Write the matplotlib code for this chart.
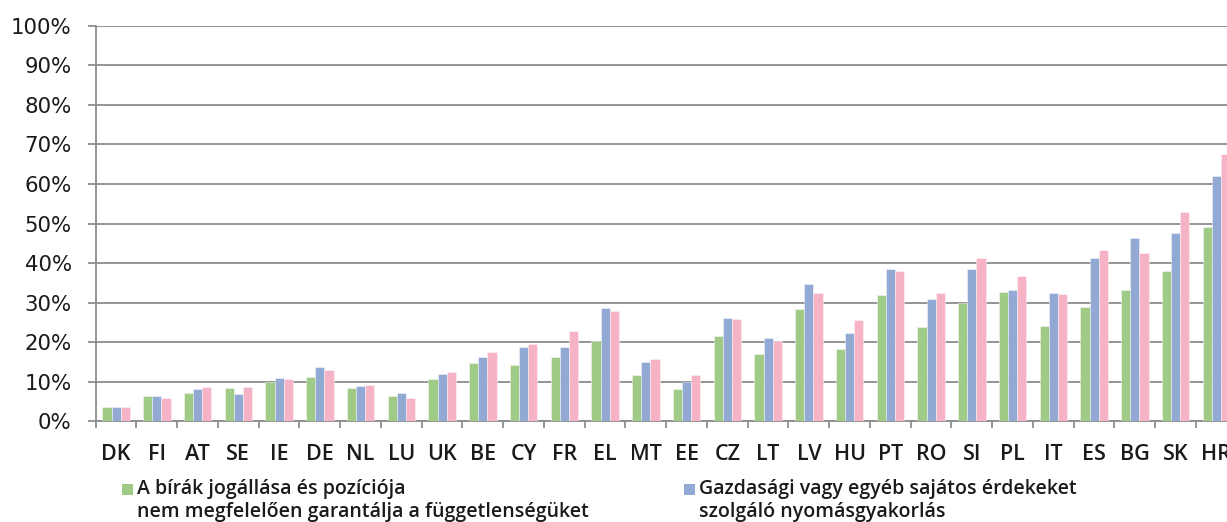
import matplotlib
matplotlib.use("Agg")
import matplotlib.pyplot as plt
from matplotlib.patches import Rectangle
from matplotlib.ticker import FixedLocator, PercentFormatter
import numpy as np

countries = ["DK", "FI", "AT", "SE", "IE", "DE", "NL", "LU", "UK", "BE", "CY", "FR",
             "EL", "MT", "EE", "CZ", "LT", "LV", "HU", "PT", "RO", "SI", "PL", "IT",
             "ES", "BG", "SK", "HR"]

status_position = [3.5, 6.5, 7.1, 8.4, 9.9, 11.3, 8.5, 6.5, 10.6, 14.8, 14.3, 16.2,
                   20.3, 11.8, 8.2, 21.5, 17.1, 28.3, 18.3, 31.8, 23.8, 30.0, 32.6, 24.1,
                   29.0, 33.2, 38.1, 49.2]
economic_pressure = [3.5, 6.5, 8.2, 7.0, 10.9, 13.8, 9.0, 7.1, 12.0, 16.3, 18.8, 18.7,
                     28.6, 15.0, 10.0, 26.2, 21.0, 34.8, 22.2, 38.5, 31.0, 38.4, 33.1, 32.4,
                     41.4, 46.4, 47.6, 62.0]
government_pressure = [3.7, 5.9, 8.7, 8.7, 10.8, 12.9, 9.3, 6.0, 12.4, 17.4, 19.5, 22.9,
                       28.0, 15.8, 11.6, 25.9, 20.4, 32.4, 25.7, 37.9, 32.4, 41.4, 36.8, 32.2,
                       43.4, 42.5, 52.9, 67.6]

legend_labels = ["A bírák jogállása és pozíciója\nnem megfelelően garantálja a függetlenségüket",
                 "Gazdasági vagy egyéb sajátos érdekeket\nszolgáló nyomásgyakorlás"]

green = "#a0cb87"
blue = "#92a9d4"
pink = "#f5b3c5"
grid_grey = "#8c8c8c"
text_col = "#1a1a1a"
label_font = ["Open Sans", "DejaVu Sans"]

W, H = 1227, 522
fig = plt.figure(figsize=(W / 100, H / 100), dpi=100)

left_px, right_px = 95.7, 95.7 + 28 * 40.75
top_px, bottom_px = 25.7, 421.3
ax = fig.add_axes([left_px / W, 1 - bottom_px / H,
                   (right_px - left_px) / W, (bottom_px - top_px) / H])

x = np.arange(len(countries))
bw = 0.224
series = [(status_position, green), (economic_pressure, blue), (government_pressure, pink)]
for i, (vals, col) in enumerate(series):
    ax.bar(x + (i - 1) * bw, vals, width=bw, color=col,
           edgecolor=(1, 1, 1, 0.5), linewidth=0.6, zorder=3)

ax.set_xlim(-0.5, len(countries) - 0.5)
ax.set_ylim(0, 100)

ax.yaxis.set_major_locator(FixedLocator(np.arange(0, 101, 10)))
ax.yaxis.set_major_formatter(PercentFormatter(decimals=0))
ax.grid(axis="y", color=grid_grey, linewidth=1.3, zorder=1)
ax.set_axisbelow(True)

ax.set_xticks(x)
ax.set_xticklabels(countries, family=label_font, fontweight="semibold")
ax.set_xticks(np.arange(-0.5, len(countries), 1), minor=True)
ax.tick_params(axis="x", which="major", length=0, pad=16, labelsize=15.5, labelcolor=text_col)
ax.tick_params(axis="x", which="minor", length=4.8, width=1.3, color=grid_grey, direction="out")
ax.tick_params(axis="y", length=5.8, width=1.3, color=grid_grey, pad=11.5,
               labelsize=15.3, labelcolor=text_col)

for side in ("top", "right"):
    ax.spines[side].set_visible(False)
for side in ("left", "bottom"):
    ax.spines[side].set_color(grid_grey)
    ax.spines[side].set_linewidth(1.3)

# legend entries under the axis
legend_items = [(legend_labels[0], green, 122), (legend_labels[1], blue, 684)]
for label, col, xp in legend_items:
    fig.patches.append(Rectangle((xp / W, 1 - 495 / H), 11 / W, 11 / H,
                                 transform=fig.transFigure, facecolor=col,
                                 edgecolor="none"))
    fig.text((xp + 15) / W, 1 - 479 / H, label, ha="left", va="top",
             fontsize=14, color=text_col, linespacing=1.22,
             family=label_font, fontweight="semibold")

fig.savefig("out.png", dpi=100)
